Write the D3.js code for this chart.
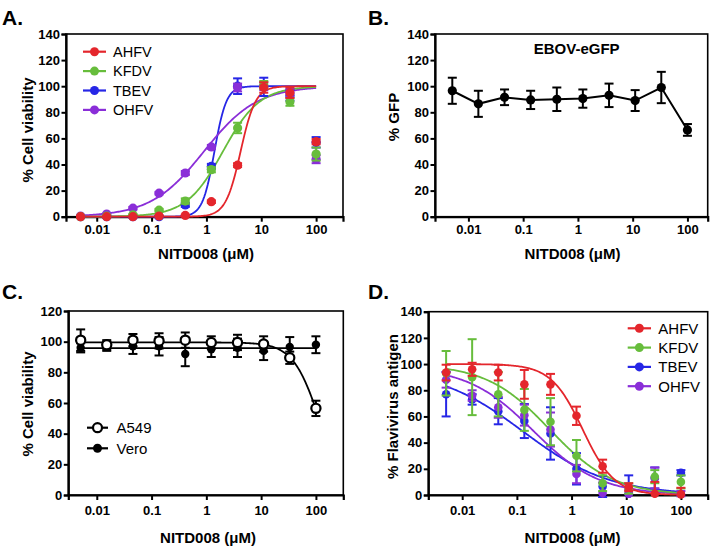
<!DOCTYPE html>
<html><head><meta charset="utf-8">
<script src="https://cdn.jsdelivr.net/npm/d3@7"></script>
<style>
html,body{margin:0;padding:0;background:#fff;}
svg{display:block;font-family:"Liberation Sans",Arial,Helvetica,sans-serif;}
</style></head><body>
<svg id="c" width="711" height="548"></svg>
<script>
// ---------------- DATA ----------------
const conc = [0.00508, 0.0152, 0.0457, 0.137, 0.412, 1.23, 3.70, 11.1, 33.3, 100];
const xTickValues = [0.01, 0.1, 1, 10, 100];
const xTickLabels = ["0.01", "0.1", "1", "10", "100"];
const yTicks140 = [0, 20, 40, 60, 80, 100, 120, 140];
const yTicks120 = [0, 20, 40, 60, 80, 100, 120];
const xAxisTitle = "NITD008 (\u03BCM)";

// Panel A: % cell viability
const virusNames = ["AHFV", "KFDV", "TBEV", "OHFV"];
const aAHFV   = [0, 0, 0, 0.5, 1, 11.5, 39.5, 99, 95, 57.5];
const aAHFVsd = [0.5, 0.5, 0.5, 0.5, 0.5, 1, 1.5, 4, 4, 2];
const aKFDV   = [0, 0.5, 1.5, 5, 12, 36, 68, 101, 88, 48];
const aKFDVsd = [0.5, 0.5, 0.5, 1, 2, 2, 4, 3, 3, 5];
const aTBEV   = [0, 0, 0, 0, 9, 38.5, 100, 99.5, 93, 57];
const aTBEVsd = [0.5, 0.5, 0.5, 0.5, 1.5, 2, 6, 7, 4, 4];
const aOHFV   = [0.5, 2, 6.5, 18, 33.5, 53.5, 99, 100, 95, 44];
const aOHFVsd = [0.5, 0.5, 1, 1, 1.5, 1.5, 3, 3, 3, 3];
// fitted curves (bottom, top, EC50, Hill)
const aFitBottom = [0, 0, 0, 0];
const aFitTop    = [100, 100, 100, 100];
const aFitEC50   = [4.2, 2.0, 1.4, 0.9];
const aFitHill   = [3.2, 1.3, 4.0, 0.9];

// Panel B: % GFP
const bTitle = "EBOV-eGFP";
const bGFP   = [96.5, 86.5, 91.5, 89.5, 90, 90.5, 93, 89, 99, 66.5];
const bGFPsd = [10, 10, 6, 7, 9, 7, 9, 8, 12, 4.5];

// Panel C: % cell viability, cell lines
const cellNames = ["A549", "Vero"];
const cA549   = [101, 98, 101, 100.5, 101, 99.5, 99.5, 98.5, 89.5, 56.5];
const cA549sd = [7, 3, 4, 5, 5, 4, 5, 5, 4, 5];
const cVero   = [96, 97, 97, 97, 92, 95, 96, 94, 96.5, 98];
const cVerosd = [3, 3, 5, 6, 8, 5, 6, 6, 6.5, 5.5];
const cA549Fit = {bottom: 0, top: 99.5, ec50: 115, hill: -1.8};
const cVeroFit = 95.8;

// Panel D: % flavivirus antigen
const dAHFV   = [93.5, 96, 93.5, 84.5, 84.5, 60.5, 22, 6, 1, 0.5];
const dAHFVsd = [6, 5, 6, 11, 8, 7, 5, 3, 9, 5];
const dKFDV   = [93, 90, 77, 65, 56, 30, 9, 5, 14, 10];
const dKFDVsd = [17, 29, 17, 16, 18, 12, 6, 4, 5, 5];
const dTBEV   = [77, 73, 64, 56.5, 47, 20, 6.5, 1, 13, 17];
const dTBEVsd = [17, 4, 10, 13, 20, 12, 8, 14, 8, 2];
const dOHFV   = [88, 76, 67, 61, 50, 16, 1.5, 1, 13, 1];
const dOHFVsd = [6, 4, 8, 8, 13, 7, 8, 3, 8, 2];
const dFitBottom = [0, 0, 0, 0];
const dFitTop    = [100, 100, 97, 98];
const dFitEC50   = [1.6, 0.4, 0.13, 0.2];
const dFitHill   = [-1.5, -0.75, -0.55, -0.72];

// ---------------- STYLE ----------------
const colors = ["#e4262c", "#67bd3c", "#2626e6", "#8a2ed8"];
const FONT_TICK = 13, FONT_TITLE = 15;

const svg = d3.select("#c");

function logistic(x, b, t, ec, h) {
  return b + (t - b) / (1 + Math.pow(ec / x, h));
}

function makePanel(p) {
  const x = d3.scaleLog().domain([Math.pow(10, p.lmin), Math.pow(10, p.lmax)]).range([p.x0, p.x1]);
  const y = d3.scaleLinear().domain([0, p.yMax]).range([p.yb, p.yt]);
  const g = svg.append("g");
  g.append("rect").attr("x", p.x0).attr("y", p.yt).attr("width", p.x1 - p.x0).attr("height", p.yb - p.yt)
    .attr("fill", "none").attr("stroke", "#000").attr("stroke-width", 1.6);
  const ya = g.append("g").attr("transform", `translate(${p.x0},0)`)
    .call(d3.axisLeft(y).tickValues(p.yTicks).tickSize(p.ytick).tickPadding(1.5).tickFormat(d3.format("d")));
  const xa = g.append("g").attr("transform", `translate(0,${p.yb})`)
    .call(d3.axisBottom(x).tickValues(xTickValues).tickSize(5).tickPadding(p.xpad)
      .tickFormat((d, i) => xTickLabels[i]));
  [ya, xa].forEach(a => {
    a.select(".domain").attr("stroke-width", 2.2);
    a.selectAll(".tick line").attr("stroke-width", 2);
    a.selectAll("text").attr("font-size", FONT_TICK).attr("font-weight", "bold")
      .attr("fill", "#000").attr("font-family", '"Liberation Sans",Arial,sans-serif');
  });
  g.append("text").attr("x", p.xlabX).attr("y", p.xlabY).attr("text-anchor", "middle")
    .attr("font-size", FONT_TITLE).attr("font-weight", "bold").text(xAxisTitle);
  g.append("text").attr("transform", `translate(${p.ylabX},${p.ylabY}) rotate(-90)`)
    .attr("text-anchor", "middle").attr("font-size", FONT_TITLE).attr("font-weight", "bold").text(p.ylab);
  g.append("text").attr("x", p.letterX).attr("y", p.letterY).attr("font-size", 21)
    .attr("font-weight", "bold").text(p.letter);
  return {x, y, g};
}

function curve(g, x, y, f, color, w) {
  const l0 = Math.log10(conc[0]), l1 = Math.log10(conc[conc.length - 1]);
  const pts = d3.range(0, 201).map(i => {
    const v = Math.pow(10, l0 + i * (l1 - l0) / 200);
    return [x(v), y(f(v))];
  });
  g.append("path").attr("d", d3.line()(pts)).attr("fill", "none").attr("stroke", color)
    .attr("stroke-width", w || 1.8);
}

function errPts(g, x, y, vals, sds, color, opt) {
  const cw = opt.cap || 4.5;
  const eg = g.append("g");
  vals.forEach((v, i) => {
    const cx = x(conc[i]);
    const top = y(v + sds[i]), bot = y(Math.max(v - sds[i], -2));
    eg.append("line").attr("x1", cx).attr("x2", cx).attr("y1", top).attr("y2", bot)
      .attr("stroke", color).attr("stroke-width", 2);
    eg.append("line").attr("x1", cx - cw).attr("x2", cx + cw).attr("y1", top).attr("y2", top)
      .attr("stroke", color).attr("stroke-width", 2);
    if (v - sds[i] > -2)
      eg.append("line").attr("x1", cx - cw).attr("x2", cx + cw).attr("y1", bot).attr("y2", bot)
        .attr("stroke", color).attr("stroke-width", 2);
  });
  vals.forEach((v, i) => {
    eg.append("circle").attr("cx", x(conc[i])).attr("cy", y(v)).attr("r", opt.r || 4.5)
      .attr("fill", opt.open ? "#fff" : color).attr("stroke", color).attr("stroke-width", opt.open ? 2.2 : 0);
  });
}

function legendEntry(g, x0, x1, xt, yc, color, label, fs, open) {
  g.append("line").attr("x1", x0).attr("x2", x1).attr("y1", yc).attr("y2", yc)
    .attr("stroke", color).attr("stroke-width", 2.2);
  g.append("circle").attr("cx", (x0 + x1) / 2).attr("cy", yc).attr("r", 4.5)
    .attr("fill", open ? "#fff" : color).attr("stroke", color).attr("stroke-width", open ? 2.2 : 0);
  g.append("text").attr("x", xt).attr("y", yc + fs * 0.36).attr("font-size", fs).text(label);
}

// ---------------- PANEL A ----------------
{
  const P = makePanel({x0: 66, x1: 343, yb: 216.7, yt: 34, lmin: -2.56, lmax: 2.49, yMax: 140,
    yTicks: yTicks140, ytick: 4.5, xpad: 3.5, xlabX: 206, xlabY: 259, ylabX: 33, ylabY: 130,
    ylab: "% Cell viability", letter: "A.", letterX: 2, letterY: 24.5});
  const vals = [aAHFV, aKFDV, aTBEV, aOHFV], sds = [aAHFVsd, aKFDVsd, aTBEVsd, aOHFVsd];
  [2, 3, 1, 0].forEach(k => curve(P.g, P.x, P.y,
    v => logistic(v, aFitBottom[k], aFitTop[k], aFitEC50[k], aFitHill[k]), colors[k]));
  [2, 3, 1, 0].forEach(k => errPts(P.g, P.x, P.y, vals[k], sds[k], colors[k], {r: 4.6}));
  virusNames.forEach((n, k) => legendEntry(P.g, 83, 106, 113, 51.7 + k * 19.4, colors[k], n, 14.5));
}

// ---------------- PANEL B ----------------
{
  const P = makePanel({x0: 435, x1: 707.7, yb: 216.7, yt: 34, lmin: -2.61, lmax: 2.37, yMax: 140,
    yTicks: yTicks140, ytick: 4.5, xpad: 3.5, xlabX: 572.5, xlabY: 259, ylabX: 399, ylabY: 117,
    ylab: "% GFP", letter: "B.", letterX: 368, letterY: 24.5});
  P.g.append("path").attr("d", d3.line()(bGFP.map((v, i) => [P.x(conc[i]), P.y(v)])))
    .attr("fill", "none").attr("stroke", "#000").attr("stroke-width", 2);
  errPts(P.g, P.x, P.y, bGFP, bGFPsd, "#000", {r: 4.6});
  P.g.append("text").attr("x", 576.7).attr("y", 53.5).attr("text-anchor", "middle")
    .attr("font-size", 15).attr("font-weight", "bold").text(bTitle);
}

// ---------------- PANEL C ----------------
{
  const P = makePanel({x0: 68.3, x1: 343.3, yb: 495, yt: 311, lmin: -2.52, lmax: 2.50, yMax: 120,
    yTicks: yTicks120, ytick: 4.5, xpad: 5.5, xlabX: 208, xlabY: 543, ylabX: 33, ylabY: 404,
    ylab: "% Cell viability", letter: "C.", letterX: 2, letterY: 299});
  curve(P.g, P.x, P.y, () => cVeroFit, "#000", 1.8);
  curve(P.g, P.x, P.y, v => logistic(v, cA549Fit.bottom, cA549Fit.top, cA549Fit.ec50, cA549Fit.hill), "#000", 1.8);
  errPts(P.g, P.x, P.y, cVero, cVerosd, "#000", {r: 4.2});
  errPts(P.g, P.x, P.y, cA549, cA549sd, "#000", {r: 4.6, open: true});
  legendEntry(P.g, 87, 108, 116.5, 427.7, "#000", cellNames[0], 15, true);
  legendEntry(P.g, 87, 108, 116.5, 448.3, "#000", cellNames[1], 15, false);
}

// ---------------- PANEL D ----------------
{
  const P = makePanel({x0: 428.3, x1: 707.7, yb: 495, yt: 311.7, lmin: -2.62, lmax: 2.49, yMax: 140,
    yTicks: yTicks140, ytick: 4.5, xpad: 5.5, xlabX: 572.5, xlabY: 543, ylabX: 398, ylabY: 406.5,
    ylab: "% Flavivirus antigen", letter: "D.", letterX: 368, letterY: 299});
  const vals = [dAHFV, dKFDV, dTBEV, dOHFV], sds = [dAHFVsd, dKFDVsd, dTBEVsd, dOHFVsd];
  [2, 3, 1, 0].forEach(k => curve(P.g, P.x, P.y,
    v => logistic(v, dFitBottom[k], dFitTop[k], dFitEC50[k], dFitHill[k]), colors[k]));
  [2, 3, 1, 0].forEach(k => errPts(P.g, P.x, P.y, vals[k], sds[k], colors[k], {r: 4.3}));
  virusNames.forEach((n, k) => legendEntry(P.g, 627.7, 651, 658.3, 328.3 + k * 19.3, colors[k], n, 15));
}
</script>
</body></html>
